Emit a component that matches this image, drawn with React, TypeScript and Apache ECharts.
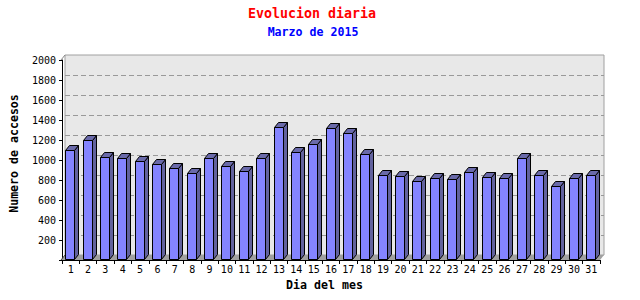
import React, { useEffect, useRef } from "react";
import * as echarts from "echarts";

const titleText = "Evolucion diaria";
const subtitleText = "Marzo de 2015";
const xName = "Dia del mes";
const yName = "Numero de accesos";

const days = [
  "1", "2", "3", "4", "5", "6", "7", "8", "9", "10",
  "11", "12", "13", "14", "15", "16", "17", "18", "19", "20",
  "21", "22", "23", "24", "25", "26", "27", "28", "29", "30", "31",
];

const visits = [
  1100, 1200, 1027, 1017, 987, 957, 917, 867, 1017, 937,
  887, 1017, 1327, 1077, 1157, 1317, 1267, 1057, 847, 837,
  787, 817, 807, 877, 827, 817, 1017, 847, 737, 817, 847,
];

const yMin = 0;
const yMax = 2000;
const yStep = 200;

const FRONT = "#8484ff";
const SIDE = "#62629e";
const TOP = "#6a6aaa";
const mono = "'DejaVu Sans Mono', 'Liberation Mono', monospace";

export default function App() {
  const ref = useRef<HTMLDivElement>(null);

  useEffect(() => {
    document.body.style.margin = "0";
    const chart = echarts.init(ref.current!, null, { renderer: "svg" });
    const option: any = {
      animation: false,
      backgroundColor: "#ffffff",
      title: [
        {
          text: titleText,
          left: 312,
          textAlign: "center",
          top: 7,
          padding: 0,
          textStyle: { color: "#ff0000", fontFamily: mono, fontSize: 13.3, fontWeight: "bold" },
        },
        {
          text: subtitleText,
          left: 313,
          textAlign: "center",
          top: 26,
          padding: 0,
          textStyle: { color: "#0000ff", fontFamily: mono, fontSize: 11.6, fontWeight: "bold" },
        },
      ],
      grid: [
        {
          left: 65, top: 55, width: 539, height: 200,
          show: true, backgroundColor: "#e8e8e8", borderColor: "#a0a0a0", borderWidth: 1,
        },
        { left: 61, top: 60, width: 539, height: 200, show: false },
      ],
      xAxis: [
        { gridIndex: 0, type: "category", data: days, show: false },
        {
          gridIndex: 1,
          type: "category",
          data: days,
          boundaryGap: true,
          name: xName,
          nameLocation: "middle",
          nameGap: 16,
          nameTextStyle: {
            color: "#000", fontFamily: mono, fontSize: 11.6, fontWeight: "bold",
            padding: [0, 13, 0, 0],
          },
          axisLine: { show: true, lineStyle: { color: "#000", width: 1 } },
          axisTick: { show: true, interval: 0, length: 4, lineStyle: { color: "#000" } },
          axisLabel: { interval: 0, color: "#000", fontFamily: mono, fontSize: 10, margin: 4 },
          splitLine: { show: false },
        },
      ],
      yAxis: [
        {
          gridIndex: 0, type: "value", min: yMin, max: yMax, interval: yStep,
          axisLine: { show: false }, axisTick: { show: false }, axisLabel: { show: false },
          splitLine: {
            show: true, showMinLine: false, showMaxLine: false,
            lineStyle: { color: "#999999", type: [5, 3], width: 1 },
          },
        },
        {
          gridIndex: 1, type: "value", min: yMin, max: yMax, interval: yStep,
          name: yName,
          nameLocation: "middle",
          nameRotate: 90,
          nameGap: 42,
          nameTextStyle: {
            color: "#000", fontFamily: mono, fontSize: 11.6, fontWeight: "bold",
            padding: [0, 0, 0, 13],
          },
          axisLine: { show: true, lineStyle: { color: "#000", width: 1 } },
          axisTick: { show: true, length: 3, lineStyle: { color: "#000" } },
          axisLabel: {
            color: "#000", fontFamily: mono, fontSize: 10, margin: 6,
            formatter: (v: number) => (v === 0 ? "" : String(v)),
          },
          splitLine: { show: false },
        },
      ],
      graphic: [
        {
          type: "polygon",
          z: 1,
          shape: { points: [[61, 260], [600, 260], [604, 255], [65, 255]] },
          style: { fill: "#a0a0a0" },
        },
        {
          type: "line",
          z: 1,
          shape: { x1: 61, y1: 60, x2: 65, y2: 55 },
          style: { stroke: "#888888", lineWidth: 1 },
        },
        {
          type: "line",
          z: 1,
          shape: { x1: 61, y1: 260, x2: 65, y2: 255 },
          style: { stroke: "#444444", lineWidth: 1 },
        },
      ],
      series: [
        {
          type: "custom",
          xAxisIndex: 1,
          yAxisIndex: 1,
          z: 5,
          data: visits.map((v, i) => [i, v]),
          encode: { x: 0, y: 1 },
          renderItem: (_params: any, api: any) => {
            const i = api.value(0);
            const v = api.value(1);
            const topPt = api.coord([i, v]);
            const basePt = api.coord([i, 0]);
            const w = 9;
            const dx = 4;
            const dy = 5;
            const l = Math.round(topPt[0] - 5.4) + 0.5;
            const t = Math.round(topPt[1]) + 0.5;
            const b = Math.round(basePt[1]) - 0.5;
            const r = l + w;
            return {
              type: "group",
              children: [
                {
                  type: "polygon",
                  shape: { points: [[r, t], [r + dx, t - dy], [r + dx, b - dy], [r, b]] },
                  style: { fill: SIDE, stroke: "#000", lineWidth: 1 },
                },
                {
                  type: "polygon",
                  shape: { points: [[l, t], [l + dx, t - dy], [r + dx, t - dy], [r, t]] },
                  style: { fill: TOP, stroke: "#000", lineWidth: 1 },
                },
                {
                  type: "rect",
                  shape: { x: l, y: t, width: w, height: b - t },
                  style: { fill: FRONT, stroke: "#000", lineWidth: 1 },
                },
              ],
            };
          },
        },
      ],
    };
    chart.setOption(option);
    return () => chart.dispose();
  }, []);

  return (
    <div
      ref={ref}
      style={{ position: "fixed", left: 0, top: 0, width: 640, height: 300 }}
    />
  );
}
